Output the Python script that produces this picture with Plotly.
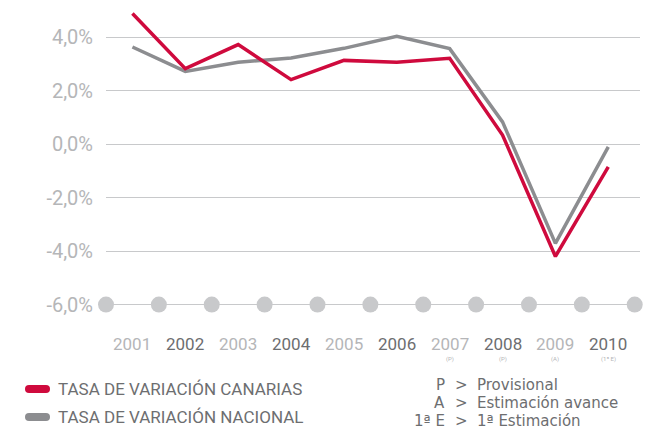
import plotly.graph_objects as go

years = [2001, 2002, 2003, 2004, 2005, 2006, 2007, 2008, 2009, 2010]
canarias = [4.88, 2.82, 3.72, 2.41, 3.13, 3.06, 3.21, 0.34, -4.20, -0.85]
nacional = [3.63, 2.72, 3.06, 3.22, 3.58, 4.03, 3.57, 0.83, -3.71, -0.10]
year_notes = ["", "", "", "", "", "", "(P)", "(P)", "(A)", "(1ª E)"]
y_ticks = [4, 2, 0, -2, -4, -6]
y_tick_text = ["4,0%", "2,0%", "0,0%", "-2,0%", "-4,0%", "-6,0%"]
legend_names = ["TASA DE VARIACIÓN CANARIAS", "TASA DE VARIACIÓN NACIONAL"]
note_keys = ["P", "A", "1ª E"]
note_texts = ["Provisional", "Estimación avance", "1ª Estimación"]

RED = "#cf0a3d"
GRAY = "#8c8d90"
GRID = "#c8c9cb"
LIGHT = "#b5b6b8"
DARK = "#6d6e70"
FONT = "Roboto"
NOTE_FONT = "DejaVu Sans"

W, H = 645, 430
ML, MR, MT, MB = 106, 5, 5, 112
pw = W - ML - MR
ph = H - MT - MB

def px(x):
    return (x - ML) / pw

def py(y):
    return (H - MB - y) / ph

fig = go.Figure()

# boundary dots
bounds = [y - 0.5 for y in years] + [years[-1] + 0.5]
fig.add_trace(go.Scatter(x=bounds, y=[-6] * len(bounds), mode="markers",
                         marker=dict(size=16, color=GRID), cliponaxis=False,
                         hoverinfo="skip", showlegend=False))
fig.add_trace(go.Scatter(x=years, y=nacional, mode="lines",
                         line=dict(color=GRAY, width=3.5), showlegend=False))
fig.add_trace(go.Scatter(x=years, y=canarias, mode="lines",
                         line=dict(color=RED, width=3.5), showlegend=False))

annotations = []
for i, yr in enumerate(years):
    annotations.append(dict(x=yr, y=py(344), xref="x", yref="paper", text=str(yr),
                            showarrow=False, xanchor="center", yanchor="middle",
                            font=dict(family=FONT, size=17,
                                      color=DARK if yr % 2 == 0 else LIGHT)))
    if year_notes[i]:
        annotations.append(dict(x=yr, y=py(359), xref="x", yref="paper", text=year_notes[i],
                                showarrow=False, xanchor="center", yanchor="middle",
                                font=dict(family=FONT, size=6, color=LIGHT)))

shapes = []
leg_y = [389, 417]
leg_col = [RED, GRAY]
for i, name in enumerate(legend_names):
    yc = py(leg_y[i])
    for xc in (px(29), px(46)):
        shapes.append(dict(type="circle", xref="paper", yref="paper",
                           xsizemode="pixel", ysizemode="pixel",
                           xanchor=xc, yanchor=yc, x0=-4, x1=4, y0=-4, y1=4,
                           fillcolor=leg_col[i], line=dict(width=0)))
    shapes.append(dict(type="rect", xref="paper", yref="paper",
                       ysizemode="pixel", yanchor=yc, y0=-4, y1=4,
                       x0=px(29), x1=px(46), fillcolor=leg_col[i], line=dict(width=0)))
    annotations.append(dict(x=px(56), y=yc, xref="paper", yref="paper", text=name,
                            showarrow=False, xanchor="left", yanchor="middle",
                            font=dict(family=FONT, size=17, color=DARK)))

note_y = [385, 403, 421]
for i in range(3):
    yc = py(note_y[i])
    annotations.append(dict(x=px(447), y=yc, xref="paper", yref="paper", text=note_keys[i],
                            showarrow=False, xanchor="right", yanchor="middle",
                            font=dict(family=NOTE_FONT, size=15, color=DARK)))
    annotations.append(dict(x=px(461), y=yc, xref="paper", yref="paper", text="&gt;",
                            showarrow=False, xanchor="center", yanchor="middle",
                            font=dict(family=NOTE_FONT, size=15, color=DARK)))
    annotations.append(dict(x=px(475), y=yc, xref="paper", yref="paper", text=note_texts[i],
                            showarrow=False, xanchor="left", yanchor="middle",
                            font=dict(family=NOTE_FONT, size=15, color=DARK)))

fig.update_layout(
    width=W, height=H,
    margin=dict(l=ML, r=MR, t=MT, b=MB),
    paper_bgcolor="white", plot_bgcolor="white",
    showlegend=False,
    annotations=annotations, shapes=shapes,
    xaxis=dict(range=[2000.5, 2010.6], showgrid=False, zeroline=False,
               showticklabels=False, ticks=""),
    yaxis=dict(range=[-6.5, 5.2], tickvals=y_ticks, ticktext=y_tick_text,
               showgrid=True, gridcolor=GRID, gridwidth=1.3, zeroline=False,
               ticks="", ticklabelstandoff=12,
               tickfont=dict(family=FONT, size=20, color=LIGHT)),
)

fig.write_html("out.html", config={"displayModeBar": False},
               post_script="document.body.style.margin='0';document.body.style.overflow='hidden';")
